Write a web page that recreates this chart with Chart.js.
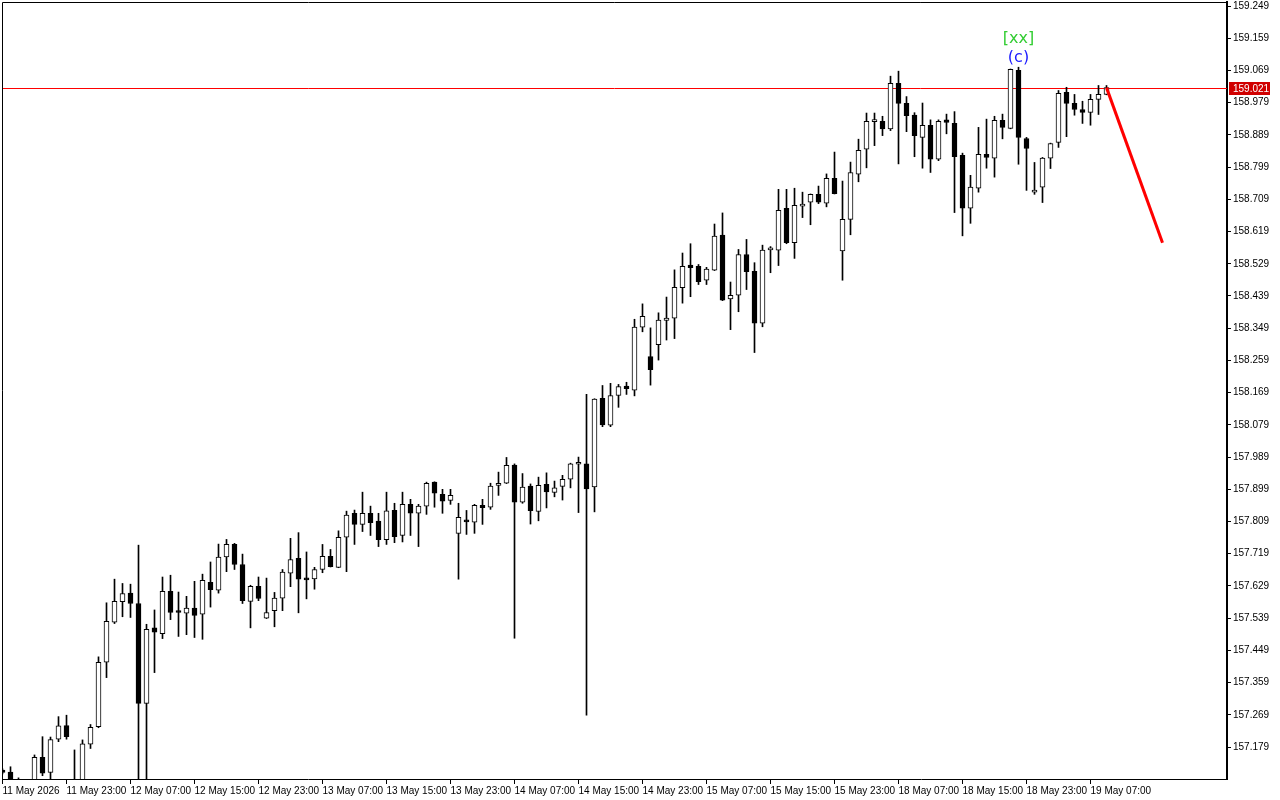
<!DOCTYPE html>
<html>
<head>
<meta charset="utf-8">
<title>USDJPY H1</title>
<script src="https://cdn.jsdelivr.net/npm/chart.js@4.4.1/dist/chart.umd.min.js"></script>
<style>
  html, body { margin: 0; padding: 0; background: #fff; }
  #chart { display: block; }
</style>
</head>
<body>
<canvas id="chart" width="1280" height="800"></canvas>
<script>
// hourly bars, 11 May 15:00 -> 19 May 09:00 (weekend skipped)
const openPrices = [
  157.115, 157.109, 157.080, 157.070, 157.075, 157.150, 157.108, 157.201, 157.239, 157.080,
  157.070, 157.187, 157.236, 157.416, 157.528, 157.585, 157.609, 157.580, 157.301, 157.512,
  157.496, 157.614, 157.556, 157.553, 157.567, 157.550, 157.639, 157.617, 157.710, 157.745,
  157.689, 157.586, 157.628, 157.539, 157.560, 157.595, 157.665, 157.706, 157.649, 157.649,
  157.675, 157.712, 157.681, 157.765, 157.832, 157.801, 157.832, 157.810, 157.758, 157.840,
  157.770, 157.857, 157.832, 157.852, 157.919, 157.885, 157.868, 157.776, 157.811, 157.807,
  157.854, 157.849, 157.910, 157.916, 157.967, 157.863, 157.908, 157.837, 157.913, 157.890,
  157.907, 157.927, 157.969, 157.970, 157.906, 158.153, 158.078, 158.161, 158.187, 158.176,
  158.352, 158.270, 158.303, 158.371, 158.377, 158.462, 158.525, 158.522, 158.483, 158.511,
  158.609, 158.431, 158.441, 158.555, 158.508, 158.363, 158.568, 158.567, 158.684, 158.588,
  158.690, 158.701, 158.723, 158.698, 158.768, 158.565, 158.653, 158.779, 158.849, 158.926,
  158.927, 158.906, 159.033, 158.977, 158.944, 158.882, 158.916, 158.821, 158.931, 158.921,
  158.832, 158.684, 158.740, 158.835, 158.824, 158.930, 158.907, 159.069, 158.879, 158.729,
  158.743, 158.824, 158.868, 159.008, 158.977, 158.960, 158.952, 158.988, 159.002
];
const highPrices = [
  157.118, 157.124, 157.093, 157.085, 157.157, 157.208, 157.207, 157.264, 157.268, 157.171,
  157.199, 157.242, 157.431, 157.582, 157.648, 157.636, 157.634, 157.743, 157.522, 157.562,
  157.654, 157.659, 157.612, 157.600, 157.642, 157.662, 157.696, 157.746, 157.759, 157.748,
  157.718, 157.631, 157.654, 157.651, 157.611, 157.675, 157.762, 157.778, 157.724, 157.681,
  157.745, 157.731, 157.783, 157.838, 157.841, 157.891, 157.852, 157.832, 157.891, 157.860,
  157.891, 157.871, 157.857, 157.919, 157.920, 157.899, 157.899, 157.860, 157.840, 157.857,
  157.871, 157.916, 157.947, 157.988, 157.970, 157.943, 157.914, 157.933, 157.945, 157.922,
  157.938, 157.972, 157.989, 158.164, 158.152, 158.189, 158.195, 158.192, 158.198, 158.374,
  158.417, 158.350, 158.392, 158.436, 158.512, 158.559, 158.585, 158.527, 158.519, 158.640,
  158.671, 158.478, 158.569, 158.597, 158.532, 158.581, 158.577, 158.737, 158.737, 158.740,
  158.729, 158.724, 158.746, 158.780, 158.841, 158.760, 158.813, 158.877, 158.950, 158.950,
  158.941, 159.053, 159.067, 158.996, 158.951, 158.978, 158.931, 158.931, 158.947, 158.954,
  158.838, 158.776, 158.910, 158.933, 158.941, 158.947, 159.073, 159.078, 158.882, 158.812,
  158.826, 158.866, 159.013, 159.022, 159.002, 158.983, 159.002, 159.027, 159.027
];
const lowPrices = [
  157.104, 157.050, 157.040, 157.030, 157.060, 157.099, 157.070, 157.194, 157.201, 157.020,
  157.030, 157.175, 157.233, 157.373, 157.524, 157.543, 157.541, 157.060, 157.060, 157.387,
  157.482, 157.535, 157.488, 157.493, 157.485, 157.480, 157.570, 157.609, 157.669, 157.675,
  157.580, 157.512, 157.588, 157.538, 157.515, 157.560, 157.627, 157.554, 157.593, 157.620,
  157.666, 157.682, 157.680, 157.669, 157.745, 157.781, 157.770, 157.739, 157.745, 157.750,
  157.752, 157.770, 157.739, 157.829, 157.849, 157.832, 157.857, 157.648, 157.773, 157.776,
  157.801, 157.843, 157.882, 157.915, 157.483, 157.860, 157.802, 157.811, 157.847, 157.878,
  157.869, 157.903, 157.834, 157.268, 157.836, 158.074, 158.074, 158.128, 158.164, 158.160,
  158.339, 158.190, 158.260, 158.316, 158.320, 158.419, 158.437, 158.471, 158.471, 158.510,
  158.426, 158.345, 158.395, 158.457, 158.281, 158.353, 158.504, 158.524, 158.585, 158.544,
  158.658, 158.638, 158.697, 158.688, 158.724, 158.483, 158.610, 158.758, 158.797, 158.859,
  158.887, 158.901, 158.808, 158.898, 158.828, 158.796, 158.784, 158.817, 158.892, 158.672,
  158.607, 158.642, 158.729, 158.796, 158.771, 158.878, 158.906, 158.807, 158.734, 158.723,
  158.700, 158.795, 158.854, 158.884, 158.944, 158.921, 158.916, 158.946, 159.001
];
const closePrices = [
  157.108, 157.075, 157.070, 157.060, 157.150, 157.106, 157.200, 157.238, 157.208, 157.060,
  157.188, 157.234, 157.416, 157.530, 157.586, 157.608, 157.580, 157.301, 157.508, 157.500,
  157.614, 157.555, 157.555, 157.567, 157.547, 157.645, 157.619, 157.710, 157.745, 157.689,
  157.588, 157.628, 157.594, 157.555, 157.595, 157.668, 157.703, 157.648, 157.646, 157.675,
  157.712, 157.683, 157.765, 157.827, 157.801, 157.832, 157.806, 157.758, 157.839, 157.767,
  157.857, 157.832, 157.852, 157.916, 157.888, 157.866, 157.882, 157.821, 157.808, 157.854,
  157.848, 157.908, 157.916, 157.966, 157.863, 157.905, 157.839, 157.910, 157.892, 157.903,
  157.927, 157.970, 157.970, 157.900, 158.151, 158.079, 158.161, 158.186, 158.180, 158.352,
  158.382, 158.233, 158.372, 158.377, 158.463, 158.522, 158.518, 158.479, 158.514, 158.606,
  158.427, 158.441, 158.555, 158.507, 158.363, 158.567, 158.570, 158.678, 158.588, 158.692,
  158.692, 158.723, 158.701, 158.768, 158.725, 158.653, 158.784, 158.846, 158.927, 158.928,
  158.906, 159.033, 158.977, 158.943, 158.887, 158.916, 158.821, 158.927, 158.924, 158.828,
  158.684, 158.743, 158.835, 158.826, 158.930, 158.910, 159.072, 158.882, 158.851, 158.734,
  158.824, 158.865, 159.005, 158.977, 158.960, 158.952, 158.988, 159.002, 159.021
];

// bottom axis: one label every 8 bars
const xTickLabels = [
  '11 May 2026', '11 May 23:00', '12 May 07:00', '12 May 15:00', '12 May 23:00', '13 May 07:00',
  '13 May 15:00', '13 May 23:00', '14 May 07:00', '14 May 15:00', '14 May 23:00', '15 May 07:00',
  '15 May 15:00', '15 May 23:00', '18 May 07:00', '18 May 15:00', '18 May 23:00', '19 May 07:00'
];
const xTickEvery = 8;

const yTickValues = [
  159.249, 159.159, 159.069, 158.979, 158.889, 158.799, 158.709, 158.619, 158.529, 158.439,
  158.349, 158.259, 158.169, 158.079, 157.989, 157.899, 157.809, 157.719, 157.629, 157.539,
  157.449, 157.359, 157.269, 157.179
];

const lastPrice = 159.021;

// projected move drawn from the last bar
const forecastBars = [138, 145];
const forecastPrices = [159.021, 158.588];

// wave marking above bar 127
const waveBar = 127;
const waveLabels = ['[xx]', '(c)'];

const bodies = openPrices.map((o, i) => ({ x: i, y: [o, closePrices[i]] }));
const wicks = lowPrices.map((l, i) => ({ x: i, y: [l, highPrices[i]] }));
const bodyColors = openPrices.map((o, i) => closePrices[i] > o ? '#ffffff' : '#000000');
const forecast = forecastBars.map((b, k) => ({ x: b, y: forecastPrices[k] }));

const mtPlugin = {
    id: 'mtDecor',
    beforeDatasetsDraw(chart) {
        const { ctx, chartArea: a, scales: { y } } = chart;
        const py = Math.round(y.getPixelForValue(lastPrice)) + 0.5;
        ctx.save();
        ctx.strokeStyle = '#ff0000';
        ctx.lineWidth = 1;
        ctx.beginPath();
        ctx.moveTo(a.left, py);
        ctx.lineTo(a.right, py);
        ctx.stroke();
        ctx.restore();
    },
    afterDraw(chart) {
        const { ctx, chartArea: a, scales: { x, y } } = chart;
        ctx.save();

        // top and left edges of the frame
        ctx.strokeStyle = '#000';
        ctx.lineWidth = 1;
        ctx.beginPath();
        ctx.moveTo(a.left + 0.5, a.bottom);
        ctx.lineTo(a.left + 0.5, a.top + 0.5);
        ctx.lineTo(a.right, a.top + 0.5);
        ctx.stroke();

        // price box on the axis
        const py = Math.round(y.getPixelForValue(lastPrice));
        ctx.fillStyle = '#d00000';
        ctx.fillRect(a.right + 2, py - 6, 41, 13);
        ctx.fillStyle = '#ffffff';
        ctx.font = '10px "Liberation Sans"';
        ctx.textAlign = 'left';
        ctx.textBaseline = 'middle';
        ctx.fillText(lastPrice.toFixed(3), a.right + 6, py + 1);

        // wave labels
        const wx = x.getPixelForValue(waveBar);
        const wy = y.getPixelForValue(highPrices[waveBar]);
        ctx.font = '16px "DejaVu Sans"';
        ctx.textAlign = 'center';
        ctx.fillStyle = '#32cd32';
        ctx.fillText(waveLabels[0], wx, wy - 28);
        ctx.fillStyle = '#1a1aff';
        ctx.fillText(waveLabels[1], wx, wy - 9);

        ctx.restore();
    }
};

new Chart(document.getElementById('chart'), {
    type: 'bar',
    data: {
        datasets: [{
            type: 'line',
            data: forecast,
            borderColor: '#ff0000',
            borderWidth: 3,
            pointRadius: 0,
            order: 0
        }, {
            data: bodies,
            backgroundColor: bodyColors,
            borderColor: '#000000',
            borderWidth: 1,
            borderSkipped: false,
            barThickness: 5,
            minBarLength: 2,
            grouped: false,
            clip: 0,
            order: 1
        }, {
            data: wicks,
            backgroundColor: '#000000',
            borderWidth: 0,
            barThickness: 1,
            grouped: false,
            clip: 0,
            order: 2
        }]
    },
    options: {
        responsive: false,
        animation: false,
        devicePixelRatio: 1,
        layout: { padding: { left: 2, top: 2, right: 0, bottom: 0 } },
        plugins: {
            legend: { display: false },
            tooltip: { enabled: false }
        },
        scales: {
            x: {
                type: 'linear',
                offset: false,
                min: -0.0625,
                max: 153.0625,
                afterBuildTicks: (scale) => {
                    scale.ticks = xTickLabels.map((_, k) => ({ value: k * xTickEvery }));
                },
                afterFit: (scale) => {
                    scale.height = 21;
                    scale.paddingLeft = 0;
                    scale.paddingRight = 0;
                },
                grid: { offset: false, drawOnChartArea: false, drawTicks: true, tickLength: 5, color: '#000' },
                border: { display: true, color: '#000', width: 1 },
                ticks: {
                    autoSkip: false,
                    maxRotation: 0,
                    align: 'start',
                    padding: 1,
                    color: '#000',
                    font: { family: 'Liberation Sans', size: 10 },
                    callback: (v) => xTickLabels[v / xTickEvery]
                }
            },
            y: {
                position: 'right',
                min: 157.0898,
                max: 159.2602,
                afterBuildTicks: (scale) => {
                    scale.ticks = yTickValues.map(v => ({ value: v }));
                },
                afterFit: (scale) => {
                    scale.width = 53;
                    scale.paddingTop = 0;
                    scale.paddingBottom = 0;
                },
                grid: { drawOnChartArea: false, drawTicks: true, tickLength: 4, color: '#000' },
                border: { display: true, color: '#000', width: 2 },
                ticks: {
                    padding: 2,
                    color: '#000',
                    font: { family: 'Liberation Sans', size: 10 },
                    callback: (v) => Number(v).toFixed(3)
                }
            }
        }
    },
    plugins: [mtPlugin]
});
</script>
</body>
</html>
